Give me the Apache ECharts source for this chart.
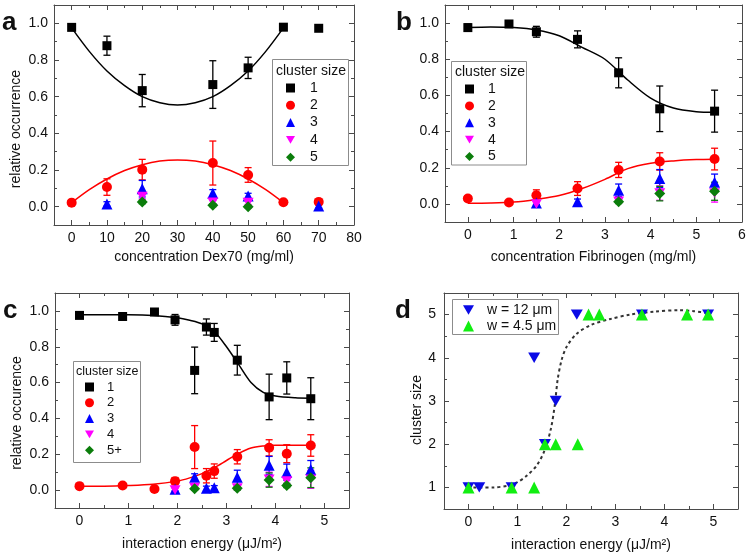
<!DOCTYPE html>
<html>
<head>
<meta charset="utf-8">
<title>cluster size</title>
<script src="https://cdn.jsdelivr.net/npm/echarts@6/dist/echarts.min.js"></script>
<style>
  html, body { margin: 0; padding: 0; background: #fff; }
  #main { width: 749px; height: 557px; }
</style>
</head>
<body>
<div id="main"></div>
<script>
// ---- panel a: Dex70 ----
var aX = [0, 10, 20, 40, 50, 60, 70];
var a1 = [0.978, 0.878, 0.633, 0.666, 0.757, 0.979, 0.973];
var a1Err = [0.01, 0.052, 0.088, 0.13, 0.058, 0.008, 0.015];
var a2 = [0.022, 0.107, 0.202, 0.238, 0.173, 0.024, 0.026];
var a2Err = [0.008, 0.045, 0.056, 0.12, 0.04, 0.008, 0.008];
var a3 = [null, 0.015, 0.098, 0.073, 0.058, null, 0.004];
var a3Err = [0, 0.012, 0.045, 0.02, 0.015, 0, 0.012];
var a4 = [null, null, 0.055, 0.024, 0.022, null, null];
var a4Err = [0, 0, 0.012, 0.01, 0.01, 0, 0];
var a5 = [null, null, 0.026, 0.008, 0.0, null, null];
var a5Err = [0, 0, 0.01, 0.008, 0.006, 0, 0];
var aFitX = [0, 5, 10, 15, 20, 25, 30, 35, 40, 45, 50, 55, 60];
var aFit1 = [0.975, 0.847, 0.74, 0.66, 0.60, 0.567, 0.555, 0.567, 0.60, 0.66, 0.74, 0.847, 0.975];
var aFit2 = [0.022, 0.093, 0.151, 0.197, 0.229, 0.249, 0.255, 0.249, 0.229, 0.197, 0.151, 0.093, 0.022];

// ---- panel b: Fibrinogen ----
var bX = [0, 0.9, 1.5, 2.4, 3.3, 4.2, 5.4];
var b1 = [0.975, 0.995, 0.952, 0.91, 0.725, 0.526, 0.513];
var b1Err = [0.02, 0.008, 0.03, 0.047, 0.083, 0.126, 0.116];
var b2 = [0.03, 0.008, 0.048, 0.085, 0.188, 0.235, 0.248];
var b2Err = [0.015, 0.006, 0.03, 0.038, 0.042, 0.048, 0.06];
var b3 = [null, null, 0.005, 0.012, 0.075, 0.14, 0.12];
var b3Err = [0, 0, 0.01, 0.015, 0.035, 0.05, 0.045];
var b4 = [null, null, 0.0, null, 0.015, 0.06, 0.06];
var b4Err = [0, 0, 0.01, 0, 0.01, 0.04, 0.05];
var b5 = [null, null, null, null, 0.012, 0.057, 0.07];
var b5Err = [0, 0, 0, 0, 0.01, 0.04, 0.05];
var bFitX = [0, 0.5, 1, 1.5, 2, 2.5, 3, 3.5, 4, 4.5, 5, 5.4];
var bFit1 = [0.975, 0.978, 0.975, 0.962, 0.93, 0.866, 0.8, 0.685, 0.585, 0.53, 0.51, 0.507];
var bFit2 = [0.004, 0.005, 0.01, 0.025, 0.046, 0.085, 0.136, 0.195, 0.225, 0.238, 0.245, 0.247];

// ---- panel c: interaction energy ----
var cX = [0, 0.88, 1.53, 1.95, 2.35, 2.59, 2.75, 3.22, 3.87, 4.23, 4.72];
var c1 = [0.975, 0.969, 0.994, 0.95, 0.668, 0.91, 0.88, 0.725, 0.52, 0.626, 0.51];
var c1Err = [0.01, 0.02, 0.008, 0.03, 0.13, 0.045, 0.05, 0.083, 0.127, 0.09, 0.117];
var c2 = [0.022, 0.026, 0.006, 0.05, 0.24, 0.08, 0.106, 0.186, 0.236, 0.203, 0.249];
var c2Err = [0.008, 0.015, 0.006, 0.02, 0.12, 0.04, 0.04, 0.04, 0.045, 0.05, 0.06];
var c3 = [null, null, null, 0.005, 0.071, 0.01, 0.013, 0.071, 0.138, 0.1, 0.115];
var c3Err = [0, 0, 0, 0.01, 0.02, 0.012, 0.012, 0.04, 0.05, 0.045, 0.05];
var c4 = [null, null, null, 0.0, 0.015, null, null, 0.012, 0.06, 0.05, 0.06];
var c4Err = [0, 0, 0, 0.01, 0.012, 0, 0, 0.01, 0.04, 0.015, 0.05];
var c5 = [null, null, null, null, 0.008, null, null, 0.01, 0.056, 0.026, 0.069];
var c5Err = [0, 0, 0, 0, 0.008, 0, 0, 0.01, 0.04, 0.012, 0.055];
var cFitX = [0, 0.5, 1, 1.5, 2, 2.25, 2.5, 2.75, 3, 3.25, 3.5, 3.75, 4, 4.4, 4.72];
var cFit1 = [0.978, 0.978, 0.978, 0.975, 0.962, 0.948, 0.928, 0.885, 0.8, 0.7, 0.6, 0.545, 0.525, 0.515, 0.513];
var cFit2 = [0.022, 0.022, 0.025, 0.032, 0.05, 0.068, 0.092, 0.125, 0.165, 0.205, 0.235, 0.246, 0.25, 0.25, 0.25];

// ---- panel d: cluster size ----
var dBlueX = [0, 0.22, 0.88, 1.34, 1.56, 1.78, 2.21, 3.54, 4.89];
var dBlueY = [1, 1, 1, 4, 2, 3, 5, 5, 5];
var dGreenX = [0, 0.88, 1.34, 1.56, 1.78, 2.23, 2.45, 2.67, 3.54, 4.46, 4.89];
var dGreenY = [1, 1, 1, 2, 2, 2, 5, 5, 5, 5, 5];
var dFitX = [0.1, 0.5, 0.8, 1.0, 1.2, 1.4, 1.55, 1.68, 1.76, 1.82, 1.9, 2.0, 2.2, 2.5, 2.9, 3.3, 3.8, 4.3, 4.6, 4.9];
var dFitY = [1.0, 1.0, 1.04, 1.12, 1.28, 1.52, 1.85, 2.35, 2.9, 3.5, 3.95, 4.25, 4.55, 4.76, 4.9, 5.0, 5.07, 5.1, 5.08, 5.03];

// tick values
var aTicksX = [0, 10, 20, 30, 40, 50, 60, 70, 80], aMinorX = [5, 15, 25, 35, 45, 55, 65, 75];
var occTicks = [0, 0.2, 0.4, 0.6, 0.8, 1.0], occMinor = [0.1, 0.3, 0.5, 0.7, 0.9];
var bTicksX = [0, 1, 2, 3, 4, 5, 6], bMinorX = [0.5, 1.5, 2.5, 3.5, 4.5, 5.5];
var eTicksX = [0, 1, 2, 3, 4, 5], eMinorX = [0.5, 1.5, 2.5, 3.5, 4.5];
var dTicksY = [1, 2, 3, 4, 5], dMinorY = [1.5, 2.5, 3.5, 4.5];

var FONT = 'Liberation Sans, Arial, sans-serif';
var FRAME = '#4a4a4a';
var BLACK = '#000000', RED = '#ff0000', BLUE = '#0000ff', MAGENTA = '#ff00ff', GREEN = '#0b7d0b';
var DOWN = 'path://M0,0 L10,0 L5,8.66 Z';

var grids = [
  { left: 54, top: 5, width: 300, height: 220 },
  { left: 445, top: 5, width: 297, height: 217 },
  { left: 55, top: 293, width: 294, height: 215 },
  { left: 444, top: 293, width: 294, height: 216 }
];
grids.forEach(function (g) { g.outerBoundsMode = 'none'; g.containLabel = false; });

var xAxes = [], yAxes = [];
// each side gets a major-tick axis and a minor-tick axis; the first one carries labels
function addAxes(list, dim, grid, min, max, major, minor, opt) {
  var first = list.length;
  var sides = dim === 'x' ? ['bottom', 'top'] : ['left', 'right'];
  sides.forEach(function (side, k) {
    list.push({
      type: 'value', gridIndex: grid, position: side, min: min, max: max,
      axisLine: { show: true, onZero: false, lineStyle: { color: FRAME, width: 1 } },
      axisTick: { show: true, inside: true, length: 5, customValues: major, lineStyle: { color: FRAME } },
      axisLabel: {
        show: k === 0, customValues: major, margin: opt.margin, formatter: opt.fmt,
        color: '#111', fontSize: 14, fontFamily: FONT
      },
      splitLine: { show: false },
      name: k === 0 ? opt.name : '',
      nameLocation: 'middle', nameGap: opt.nameGap,
      nameTextStyle: { color: '#111', fontSize: 14, fontFamily: FONT }
    });
    list.push({
      type: 'value', gridIndex: grid, position: side, min: min, max: max,
      axisLine: { show: false, onZero: false },
      axisTick: { show: true, inside: true, length: 3, customValues: minor, lineStyle: { color: FRAME } },
      axisLabel: { show: false },
      splitLine: { show: false }
    });
  });
  return first;
}
function dec1(v) { return v.toFixed(1); }
function int0(v) { return String(Math.round(v)); }

var axA = [
  addAxes(xAxes, 'x', 0, -5, 80, aTicksX, aMinorX, { name: 'concentration Dex70 (mg/ml)', nameGap: 25, margin: 6, fmt: int0 }),
  addAxes(yAxes, 'y', 0, -0.1, 1.1, occTicks, occMinor, { name: '', nameGap: 31, margin: 6, fmt: dec1 })
];
var axB = [
  addAxes(xAxes, 'x', 1, -0.5, 6, bTicksX, bMinorX, { name: 'concentration Fibrinogen (mg/ml)', nameGap: 28, margin: 6, fmt: int0 }),
  addAxes(yAxes, 'y', 1, -0.1, 1.1, occTicks, occMinor, { name: '', nameGap: 30, margin: 6, fmt: dec1 })
];
var axC = [
  addAxes(xAxes, 'x', 2, -0.5, 5.5, eTicksX, eMinorX, { name: 'interaction energy (\u03bcJ/m\u00b2)', nameGap: 29, margin: 6, fmt: int0 }),
  addAxes(yAxes, 'y', 2, -0.1, 1.1, occTicks, occMinor, { name: '', nameGap: 31, margin: 6, fmt: dec1 })
];
var axD = [
  addAxes(xAxes, 'x', 3, -0.5, 5.5, eTicksX, eMinorX, { name: 'interaction energy (\u03bcJ/m\u00b2)', nameGap: 29, margin: 6, fmt: int0 }),
  addAxes(yAxes, 'y', 3, 0.5, 5.5, dTicksY, dMinorY, { name: '', nameGap: 21, margin: 8, fmt: int0 })
];

function pts(xs, ys) {
  var out = [];
  xs.forEach(function (x, i) { if (ys[i] != null) out.push([x, ys[i]]); });
  return out;
}
function errPts(xs, ys, es) {
  var out = [];
  xs.forEach(function (x, i) { if (ys[i] != null && es[i] > 0) out.push([x, ys[i], es[i]]); });
  return out;
}
function errorBar(params, api) {
  var x = api.value(0), y = api.value(1), e = api.value(2);
  var hi = api.coord([x, y + e]), lo = api.coord([x, y - e]);
  var st = { stroke: api.visual('color'), lineWidth: 1.3 };
  var w = 3.5;
  return {
    type: 'group', children: [
      { type: 'line', shape: { x1: hi[0], y1: hi[1], x2: lo[0], y2: lo[1] }, style: st },
      { type: 'line', shape: { x1: hi[0] - w, y1: hi[1], x2: hi[0] + w, y2: hi[1] }, style: st },
      { type: 'line', shape: { x1: lo[0] - w, y1: lo[1], x2: lo[0] + w, y2: lo[1] }, style: st }
    ]
  };
}

var series = [];
function addFit(ax, xs, ys, color, dashed) {
  series.push({
    type: 'line', name: 'fit', xAxisIndex: ax[0], yAxisIndex: ax[1], data: pts(xs, ys),
    smooth: 0.3, showSymbol: false, silent: true, z: 1,
    lineStyle: { color: color, width: dashed ? 2 : 1.5, type: dashed ? [3, 3] : 'solid' }
  });
}
function addGroup(ax, name, xs, ys, es, color, symbol, size) {
  if (es) {
    series.push({
      type: 'custom', name: name + ' err', xAxisIndex: ax[0], yAxisIndex: ax[1], z: 3, silent: true,
      itemStyle: { color: color }, renderItem: errorBar, encode: { x: 0, y: 1 }, data: errPts(xs, ys, es)
    });
  }
  series.push({
    type: 'scatter', name: name, xAxisIndex: ax[0], yAxisIndex: ax[1], z: 4,
    symbol: symbol, symbolSize: size, symbolKeepAspect: true,
    itemStyle: { color: color, opacity: 1 }, data: pts(xs, ys)
  });
}

addFit(axA, aFitX, aFit1, BLACK); addFit(axA, aFitX, aFit2, RED);
addGroup(axA, '1', aX, a1, a1Err, BLACK, 'rect', 9);
addGroup(axA, '2', aX, a2, a2Err, RED, 'circle', 10);
addGroup(axA, '3', aX, a3, a3Err, BLUE, 'triangle', 11);
addGroup(axA, '4', aX, a4, a4Err, MAGENTA, DOWN, 11);
addGroup(axA, '5', aX, a5, a5Err, GREEN, 'diamond', 11);

addFit(axB, bFitX, bFit1, BLACK); addFit(axB, bFitX, bFit2, RED);
addGroup(axB, '1', bX, b1, b1Err, BLACK, 'rect', 9);
addGroup(axB, '2', bX, b2, b2Err, RED, 'circle', 10);
addGroup(axB, '3', bX, b3, b3Err, BLUE, 'triangle', 11);
addGroup(axB, '4', bX, b4, b4Err, MAGENTA, DOWN, 11);
addGroup(axB, '5', bX, b5, b5Err, GREEN, 'diamond', 11);

addFit(axC, cFitX, cFit1, BLACK); addFit(axC, cFitX, cFit2, RED);
addGroup(axC, '1', cX, c1, c1Err, BLACK, 'rect', 9);
addGroup(axC, '2', cX, c2, c2Err, RED, 'circle', 10);
addGroup(axC, '3', cX, c3, c3Err, BLUE, 'triangle', 11);
addGroup(axC, '4', cX, c4, c4Err, MAGENTA, DOWN, 11);
addGroup(axC, '5+', cX, c5, c5Err, GREEN, 'diamond', 11);

addFit(axD, dFitX, dFitY, '#333333', true);
addGroup(axD, 'w = 12 \u03bcm', dBlueX, dBlueY, null, '#0a0ae6', DOWN, 12);
addGroup(axD, 'w = 4.5 \u03bcm', dGreenX, dGreenY, null, '#11ee11', 'triangle', 12);

function legendAt(left, top, names, size, gap, fontSize, pad) {
  return {
    orient: 'vertical', left: left, top: top, padding: 0, data: names,
    itemWidth: size, itemHeight: size, itemGap: gap, selectedMode: false,
    textStyle: { fontSize: fontSize, fontFamily: FONT, color: '#111', lineHeight: 14, padding: [0, 0, 0, pad] }
  };
}

function box(x, y, w, h) {
  return { type: 'rect', shape: { x: x, y: y, width: w, height: h }, z: 0,
    style: { fill: '#fff', stroke: '#8c8c8c', lineWidth: 1 } };
}
function label(x, y, text, font) {
  return { type: 'text', x: x, y: y, z: 10,
    style: { text: text, font: font, fill: '#111', verticalAlign: 'middle', align: 'left' } };
}
// rotated axis title, centred on (x, y)
function yTitle(x, y, text) {
  return { type: 'text', x: x, y: y, rotation: Math.PI / 2, z: 10,
    style: { text: text, font: '14px ' + FONT, fill: '#111', verticalAlign: 'middle', align: 'center' } };
}

var option = {
  animation: false,
  backgroundColor: '#fff',
  textStyle: { fontFamily: FONT },
  grid: grids,
  xAxis: xAxes,
  yAxis: yAxes,
  legend: [
    legendAt(286, 81, ['1', '2', '3', '4', '5'], 9, 3.3, 14, 10),
    legendAt(465, 82, ['1', '2', '3', '4', '5'], 9, 2.9, 14, 9),
    legendAt(85, 380, ['1', '2', '3', '4', '5+'], 9, 1.8, 13, 8),
    legendAt(463, 303, ['w = 12 \u03bcm', 'w = 4.5 \u03bcm'], 11, 2, 14, 8)
  ],
  graphic: [
    box(272.5, 59.5, 76, 106),
    box(451.5, 61.5, 75, 103.5),
    box(73.5, 361.5, 67, 101),
    box(452.5, 299.5, 106, 35),
    label(276, 71, 'cluster size', '14px ' + FONT),
    label(455, 72.5, 'cluster size', '14px ' + FONT),
    label(76, 372, 'cluster size', '12.5px ' + FONT),
    label(2, 23, 'a', 'bold 26px ' + FONT),
    label(396, 23, 'b', 'bold 26px ' + FONT),
    label(3, 311, 'c', 'bold 26px ' + FONT),
    label(395, 311, 'd', 'bold 26px ' + FONT),
    yTitle(16, 129, 'relative occurrence'),
    yTitle(17, 413, 'relative occurence'),
    yTitle(417, 410, 'cluster size')
  ],
  series: series
};

var chart = echarts.init(document.getElementById('main'));
chart.setOption(option);
window.onresize = function () { chart.resize(); };
</script>
</body>
</html>
